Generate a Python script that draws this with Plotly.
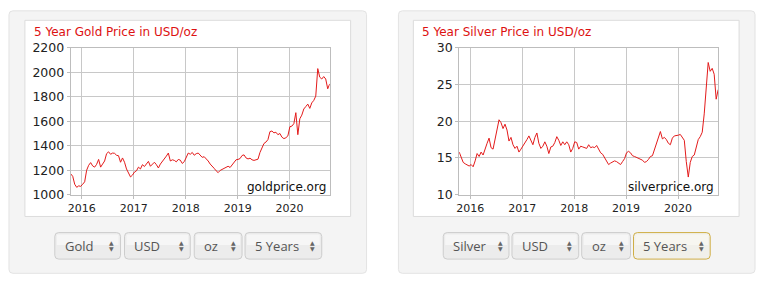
import pandas as pd
import plotly.graph_objects as go

# ---------------- data ----------------
start_date = "2015-10-16"
range_start = "2015-10-16"
range_end = "2020-10-09"

gold_usd = [
    1170, 1150, 1085, 1060, 1072, 1068, 1085, 1105, 1200, 1240,
    1262, 1235, 1225, 1248, 1288, 1225, 1250, 1275, 1335, 1350,
    1330, 1340, 1338, 1322, 1318, 1265, 1300, 1265, 1210, 1180,
    1145, 1160, 1185, 1195, 1225, 1210, 1245, 1230, 1255, 1272,
    1232, 1250, 1265, 1245, 1218, 1250, 1270, 1290, 1315, 1340,
    1275, 1285, 1280, 1268, 1288, 1282, 1255, 1270, 1310, 1340,
    1330, 1345, 1322, 1335, 1340, 1325, 1305, 1310, 1295, 1275,
    1250, 1235, 1215, 1195, 1180, 1198, 1205, 1218, 1225, 1232,
    1222, 1240, 1262, 1285, 1288, 1295, 1320, 1325, 1300, 1292,
    1298, 1285, 1280, 1288, 1290, 1345, 1380, 1418, 1430, 1450,
    1515, 1520, 1505, 1510, 1490, 1500, 1470, 1458, 1465, 1480,
    1555, 1560, 1580, 1670, 1490, 1620, 1650, 1700, 1720, 1740,
    1705, 1750, 1770, 1805, 2030, 1960, 1945, 1965, 1945, 1865,
    1905,
]

silver_usd = [
    15.8, 15.0, 14.4, 14.2, 14.0, 13.9, 14.1, 13.8, 14.6, 15.6,
    15.2, 15.8, 15.4, 16.3, 17.0, 17.7, 16.4, 16.2, 17.5, 18.5,
    20.2, 19.8, 19.0, 19.6, 18.8, 17.3, 17.8, 16.8, 16.3, 16.6,
    15.8, 16.2, 16.6, 17.0, 17.5, 18.0, 17.4, 16.8, 17.8, 18.4,
    17.0, 16.3, 16.6, 17.2, 16.6, 15.6, 16.5, 16.6, 17.1, 17.9,
    17.4, 16.7, 17.2, 16.8, 17.2, 16.8, 15.8, 16.3, 17.2, 17.1,
    16.2, 16.6, 16.5, 16.4, 16.3, 16.8, 16.4, 16.5, 16.4, 16.7,
    16.2, 15.7, 15.5, 15.0, 14.6, 14.1, 14.3, 14.4, 14.6, 14.5,
    14.3, 14.1, 14.5, 14.9, 15.7, 15.9, 15.7, 15.3, 15.2, 15.1,
    15.0, 14.8, 14.7, 14.4, 14.5, 14.8, 15.2, 15.3, 16.2, 17.0,
    17.8, 18.6, 17.6, 17.8, 17.5, 17.0, 16.8, 17.7, 18.0, 18.0,
    18.1, 18.2, 17.8, 17.4, 14.5, 12.4, 14.4, 15.2, 15.4, 16.6,
    17.5, 17.9, 18.5, 21.0, 25.0, 28.0, 26.8, 27.2, 26.4, 23.0,
    24.3,
]

gold_title = "5 Year Gold Price in USD/oz"
silver_title = "5 Year Silver Price in USD/oz"
gold_mark = "goldprice.org"
silver_mark = "silverprice.org"
gold_buttons = ["Gold", "USD", "oz", "5 Years"]
silver_buttons = ["Silver", "USD", "oz", "5 Years"]

gold_dates = pd.date_range(start_date, periods=len(gold_usd), freq="14D")
silver_dates = pd.date_range(start_date, periods=len(silver_usd), freq="14D")

# ---------------- layout helpers ----------------
W, H = 760, 286


def X(px):
    return px / W


def Y(py):
    return 1 - py / H


def rrect(x0, y0, x1, y1, r, fill, line, lw=1):
    p = (f"M {X(x0+r)},{Y(y0)} L {X(x1-r)},{Y(y0)} Q {X(x1)},{Y(y0)} {X(x1)},{Y(y0+r)} "
         f"L {X(x1)},{Y(y1-r)} Q {X(x1)},{Y(y1)} {X(x1-r)},{Y(y1)} "
         f"L {X(x0+r)},{Y(y1)} Q {X(x0)},{Y(y1)} {X(x0)},{Y(y1-r)} "
         f"L {X(x0)},{Y(y0+r)} Q {X(x0)},{Y(y0)} {X(x0+r)},{Y(y0)} Z")
    return dict(type="path", path=p, xref="paper", yref="paper", layer="below",
                fillcolor=fill, line=dict(color=line, width=lw))


LINE_RED = "#e31b1b"
FONT = "Verdana, DejaVu Sans, sans-serif"

fig = go.Figure()
fig.add_trace(go.Scatter(x=gold_dates, y=gold_usd, mode="lines",
                         line=dict(color=LINE_RED, width=1), xaxis="x", yaxis="y",
                         hoverinfo="x+y", showlegend=False))
fig.add_trace(go.Scatter(x=silver_dates, y=silver_usd, mode="lines",
                         line=dict(color=LINE_RED, width=1), xaxis="x2", yaxis="y2",
                         hoverinfo="x+y", showlegend=False))

ydom = [Y(197), Y(42)]
common_x = dict(type="date", range=[range_start, range_end], tick0="2016-01-01", dtick="M12",
                tickformat="%Y", showgrid=True, gridcolor="#c8c8c8", gridwidth=1,
                showline=True, mirror=True, linecolor="#bdbdbd", linewidth=1,
                ticks="outside", ticklen=3, tickcolor="#bdbdbd",
                tickfont=dict(family=FONT, size=11, color="#222"), zeroline=False,
                fixedrange=True)
common_y = dict(showgrid=True, gridcolor="#c8c8c8", gridwidth=1,
                showline=True, mirror=True, linecolor="#bdbdbd", linewidth=1,
                ticks="outside", ticklen=3, tickcolor="#bdbdbd",
                tickfont=dict(family=FONT, size=12.5, color="#222"), zeroline=False,
                fixedrange=True)

shapes = []
annotations = []

panels = [
    dict(outer=(6, 3, 365, 280), inner=(22, 13, 349, 220), title=gold_title, tx=29,
         mark=gold_mark, mx=326,
         buttons=gold_buttons,
         bx=[(52, 118), (122, 188), (192, 240), (243, 320)], hl=None),
    dict(outer=(397, 3, 755, 280), inner=(412, 13, 739, 220), title=silver_title, tx=419,
         mark=silver_mark, mx=716,
         buttons=silver_buttons,
         bx=[(442, 508), (511, 578), (581, 630), (633, 710)], hl=3),
]

for p in panels:
    ox0, oy0, ox1, oy1 = p["outer"]
    shapes.append(rrect(ox0, oy0, ox1, oy1, 4, "#f4f4f4", "#e3e3e3"))
    ix0, iy0, ix1, iy1 = p["inner"]
    shapes.append(dict(type="rect", xref="paper", yref="paper", layer="below",
                       x0=X(ix0), x1=X(ix1), y0=Y(iy1), y1=Y(iy0),
                       fillcolor="#ffffff", line=dict(color="#dcdcdc", width=1)))
    annotations.append(dict(text=p["title"], x=X(p["tx"]), y=Y(25), xref="paper", yref="paper",
                            xanchor="left", yanchor="middle", showarrow=False,
                            font=dict(family=FONT, size=12, color="#dd1111")))
    annotations.append(dict(text=p["mark"], x=X(p["mx"]), y=Y(189), xref="paper", yref="paper",
                            xanchor="right", yanchor="middle", showarrow=False,
                            font=dict(family=FONT, size=12, color="#111")))
    for k, (label, (bx0, bx1)) in enumerate(zip(p["buttons"], p["bx"])):
        hl = (p["hl"] == k)
        shapes.append(rrect(bx0, 237, bx1, 265, 4,
                            "#f1f0ea" if hl else "#ececec",
                            "#cfae45" if hl else "#cdcdcd"))
        shapes.append(dict(type="rect", xref="paper", yref="paper", layer="below",
                           x0=X(bx0 + 2), x1=X(bx1 - 2), y0=Y(250), y1=Y(239),
                           fillcolor="#f6f6f6" if not hl else "#f7f6f0", line=dict(width=0)))
        annotations.append(dict(text=label, x=X(bx0 + 8), y=Y(251), xref="paper", yref="paper",
                                xanchor="left", yanchor="middle", showarrow=False,
                                font=dict(family="Open Sans, sans-serif", size=13, color="#555")))
        annotations.append(dict(text="▲", x=X(bx1 - 9), y=Y(248), xref="paper", yref="paper",
                                xanchor="center", yanchor="middle", showarrow=False,
                                font=dict(family="DejaVu Sans", size=6, color="#666")))
        annotations.append(dict(text="▼", x=X(bx1 - 9), y=Y(254), xref="paper", yref="paper",
                                xanchor="center", yanchor="middle", showarrow=False,
                                font=dict(family="DejaVu Sans", size=6, color="#666")))

fig.update_layout(
    width=W, height=H, margin=dict(l=0, r=0, t=0, b=0),
    paper_bgcolor="#ffffff", plot_bgcolor="rgba(0,0,0,0)",
    xaxis=dict(common_x, domain=[X(68), X(328)], anchor="y"),
    yaxis=dict(common_y, domain=ydom, range=[1000, 2200], dtick=200, anchor="x"),
    xaxis2=dict(common_x, domain=[X(458), X(718)], anchor="y2"),
    yaxis2=dict(common_y, domain=ydom, range=[10, 30], dtick=5, anchor="x2"),
    shapes=shapes, annotations=annotations,
    showlegend=False,
)

fig.write_html("out.html", config={"displayModeBar": False})
